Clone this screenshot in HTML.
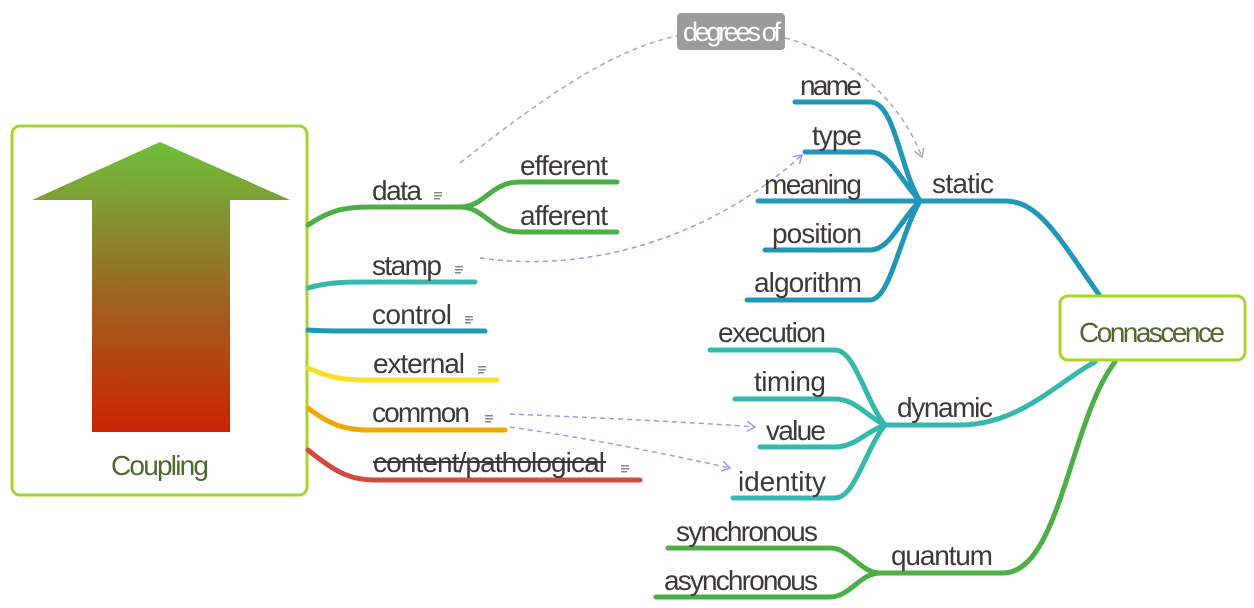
<!DOCTYPE html>
<html><head><meta charset="utf-8"><style>
html,body{margin:0;padding:0;background:#fff;width:1254px;height:608px;overflow:hidden}
text{font-family:"Liberation Sans Narrow","Liberation Sans",sans-serif;fill:#3d3a36;font-size:28px}
</style></head><body>
<svg width="1254" height="608" viewBox="0 0 1254 608" xmlns="http://www.w3.org/2000/svg">
<defs>
<linearGradient id="g" x1="0" y1="0" x2="0" y2="1">
<stop offset="0" stop-color="#6cc03c"/><stop offset="0.5" stop-color="#9a6a22"/><stop offset="1" stop-color="#cc2200"/></linearGradient>
<marker id="ag" markerWidth="12" markerHeight="12" refX="9" refY="6" orient="auto" markerUnits="userSpaceOnUse"><path d="M1,1 L9,6 L1,11" fill="none" stroke="#aaa" stroke-width="1.5"/></marker>
<marker id="ab" markerWidth="12" markerHeight="12" refX="9" refY="6" orient="auto" markerUnits="userSpaceOnUse"><path d="M1,1 L9,6 L1,11" fill="none" stroke="#9a9af0" stroke-width="1.5"/></marker>
</defs>
<rect x="12" y="126" width="295" height="369" rx="8" fill="#fff" stroke="#a8d42a" stroke-width="3"/>
<path d="M160,142 L290,200 L230,200 L230,432 L92,432 L92,200 L32,200 Z" fill="url(#g)"/>
<text x="160" y="475" text-anchor="middle" style="fill:#4e6a2c" textLength="98">Coupling</text>

<g fill="none" stroke-linecap="round" stroke-width="5">
<path d="M308,225 C330,210 345,207 370,207 L460,207" stroke="#4caf45"/>
<path d="M460,207 C485,207 490,182 520,182 L617,182" stroke="#4caf45"/>
<path d="M460,207 C485,207 490,232 520,232 L617,232" stroke="#4caf45"/>
<path d="M308,288 C325,283 340,282 365,282 L475,282" stroke="#35b8ad"/>
<path d="M308,330 C320,331 330,331 350,331 L485,331" stroke="#2196b8"/>
<path d="M308,368 C330,378 345,380 365,380 L497,380" stroke="#f5e022"/>
<path d="M308,408 C330,425 345,430 370,430 L505,430" stroke="#f0a800"/>
<path d="M308,450 C335,472 350,480 375,480 L640,480" stroke="#d24a40"/>
<path d="M920,201 L1005,201 C1040,201 1060,240 1100,296" stroke="#2196b8"/>
<path d="M795,102 L870,102 C895,102 900,170 920,201" stroke="#2196b8"/>
<path d="M805,152 L870,152 C890,152 900,180 920,201" stroke="#2196b8"/>
<path d="M758,201 L920,201" stroke="#2196b8"/>
<path d="M765,250 L870,250 C890,250 900,220 920,201" stroke="#2196b8"/>
<path d="M747,300 L870,300 C890,300 900,235 920,201" stroke="#2196b8"/>
<path d="M885,425 L960,425 C1020,425 1060,380 1095,362" stroke="#35b8ad"/>
<path d="M710,350 L835,350 C855,350 865,400 885,425" stroke="#35b8ad"/>
<path d="M735,399 L835,399 C855,399 865,415 885,425" stroke="#35b8ad"/>
<path d="M760,447 L835,447 C855,447 865,432 885,425" stroke="#35b8ad"/>
<path d="M733,498 L835,498 C855,498 865,450 885,425" stroke="#35b8ad"/>
<path d="M880,573 L1003,573 C1060,573 1070,420 1115,362" stroke="#4caf45"/>
<path d="M668,548 L830,548 C850,548 860,573 880,573" stroke="#4caf45"/>
<path d="M656,597 L830,597 C850,597 860,573 880,573" stroke="#4caf45"/>
</g>
<g fill="none" stroke-width="1.5" stroke-dasharray="5,4">
<path d="M460,163 C540,100 610,50 677,36" stroke="#aaa"/>
<path d="M785,38 C850,55 900,100 922,157" stroke="#aaa" marker-end="url(#ag)"/>
<path d="M480,258 C600,275 720,230 802,155" stroke="#9a9af0" marker-end="url(#ab)"/>
<path d="M510,414 C600,418 690,422 755,427" stroke="#9a9af0" marker-end="url(#ab)"/>
<path d="M510,427 C600,440 670,455 730,468" stroke="#9a9af0" marker-end="url(#ab)"/>
</g>
<rect x="677" y="13" width="108" height="37" rx="4" fill="#9b9b9b"/>
<text x="732" y="41" text-anchor="middle" style="fill:#fff;font-size:27px" textLength="98">degrees of</text>

<rect x="1060" y="296" width="185" height="64" rx="8" fill="#fff" stroke="#a8d42a" stroke-width="3"/>
<text x="1152" y="342" text-anchor="middle" style="fill:#4e6a2c" textLength="146">Connascence</text>

<text x="372" y="200" textLength="50">data</text>
<text x="520" y="175" textLength="88">efferent</text>
<text x="520" y="225" textLength="88">afferent</text>
<text x="372" y="275" textLength="70">stamp</text>
<text x="372" y="324" textLength="80">control</text>
<text x="373" y="373" textLength="92">external</text>
<text x="372" y="422" textLength="98">common</text>
<text x="373" y="472" textLength="232">content/pathological</text>
<line x1="373" y1="462" x2="606" y2="462" stroke="#3d3a36" stroke-width="2"/>
<g fill="#888">
<rect x="434" y="192" width="8" height="1.5"/><rect x="434" y="195" width="8" height="1.5"/><rect x="434" y="198" width="6" height="1.5"/>
<rect x="455" y="266" width="8" height="1.5"/><rect x="455" y="269" width="8" height="1.5"/><rect x="455" y="272" width="6" height="1.5"/>
<rect x="465" y="316" width="8" height="1.5"/><rect x="465" y="319" width="8" height="1.5"/><rect x="465" y="322" width="6" height="1.5"/>
<rect x="478" y="366" width="8" height="1.5"/><rect x="478" y="369" width="8" height="1.5"/><rect x="478" y="372" width="6" height="1.5"/>
<rect x="485" y="415" width="8" height="1.5"/><rect x="485" y="418" width="8" height="1.5"/><rect x="485" y="421" width="6" height="1.5"/>
<rect x="621" y="465" width="8" height="1.5"/><rect x="621" y="468" width="8" height="1.5"/><rect x="621" y="471" width="6" height="1.5"/>
</g>

<g text-anchor="end">
<text x="862" y="95" textLength="62">name</text>
<text x="862" y="145" textLength="50">type</text>
<text x="862" y="194" textLength="98">meaning</text>
<text x="862" y="243" textLength="90">position</text>
<text x="862" y="292" textLength="108">algorithm</text>
<text x="826" y="342" textLength="108">execution</text>
<text x="826" y="391" textLength="72">timing</text>
<text x="826" y="440" textLength="60">value</text>
<text x="826" y="491" textLength="88">identity</text>
<text x="818" y="541" textLength="142">synchronous</text>
<text x="818" y="590" textLength="154">asynchronous</text>
</g>
<text x="932" y="193" textLength="62">static</text>
<text x="897" y="417" textLength="96">dynamic</text>
<text x="891" y="565" textLength="102">quantum</text>
</svg>
</body></html>
